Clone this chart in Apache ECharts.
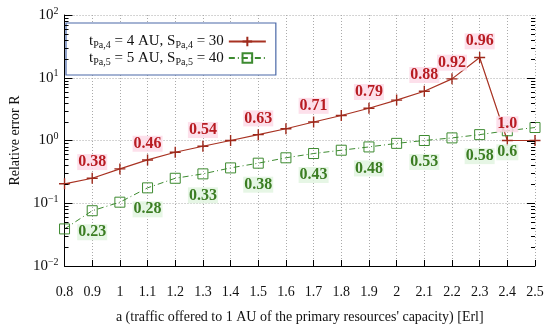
<!DOCTYPE html>
<html>
<head>
<meta charset="utf-8">
<script src="https://cdn.jsdelivr.net/npm/echarts@6/dist/echarts.min.js"></script>
<style>
html,body{margin:0;padding:0;background:#fff;}
#chart{width:550px;height:329px;}
</style>
</head>
<body>
<div id="chart"></div>
<script>
// ---- data ----
var xValues = [0.8, 0.9, 1.0, 1.1, 1.2, 1.3, 1.4, 1.5, 1.6, 1.7, 1.8, 1.9, 2.0, 2.1, 2.2, 2.3, 2.4, 2.5];
var redValues = [0.204, 0.25, 0.353, 0.49, 0.65, 0.81, 1.0, 1.24, 1.54, 1.97, 2.5, 3.27, 4.4, 6.1, 9.6, 21, 1.0, 1.0];
var greenValues = [0.039, 0.076, 0.104, 0.176, 0.25, 0.294, 0.366, 0.435, 0.53, 0.62, 0.70, 0.79, 0.90, 1.0, 1.1, 1.24, 1.43, 1.61];
var redLabels = ['', '0.38', '', '0.46', '', '0.54', '', '0.63', '', '0.71', '', '0.79', '', '0.88', '0.92', '0.96', '1.0', ''];
var greenLabels = ['', '0.23', '', '0.28', '', '0.33', '', '0.38', '', '0.43', '', '0.48', '', '0.53', '', '0.58', '0.6', ''];
var yDecades = [0.01, 0.1, 1, 10, 100];
var yExponents = ['\u22122', '\u22121', '0', '1', '2'];
var redName = 'A';
var greenName = 'B';

// minor tick values (2..9 times each decade)
var minorVals = [];
for (var d = 0; d < yDecades.length - 1; d++) {
  for (var m = 2; m <= 9; m++) minorVals.push(yDecades[d] * m);
}

var serif = '"Liberation Serif", "DejaVu Serif", serif';
var chart = echarts.init(document.getElementById('chart'), null, {renderer: 'canvas'});

function expFor(v) {
  for (var i = 0; i < yDecades.length; i++) {
    if (Math.abs(v / yDecades[i] - 1) < 1e-6) return yExponents[i];
  }
  return null;
}

var option = {
  animation: false,
  backgroundColor: '#fff',
  grid: {left: 59, right: 15, top: 15, bottom: 58},
  legend: {
    data: [redName, greenName],
    orient: 'vertical',
    left: 66, top: 23,
    align: 'right',
    itemWidth: 37, itemHeight: 12, itemGap: 0,
    padding: [11, 9, 8, 23],
    backgroundColor: '#fff',
    borderColor: '#4a68a8', borderWidth: 1.2,
    formatter: function (name) {
      if (name === redName) return '{n|t}{s|Pa,4}{n| = 4 AU, S}{s|Pa,4}{n| = 30}';
      return '{n|t}{s|Pa,5}{n| = 5 AU, S}{s|Pa,5}{n| = 40}';
    },
    textStyle: {
      fontFamily: serif, color: '#111',
      rich: {
        n: {fontFamily: serif, fontSize: 15, lineHeight: 18, color: '#111'},
        s: {fontFamily: serif, fontSize: 10, lineHeight: 10, verticalAlign: 'bottom', color: '#111'}
      }
    }
  },
  xAxis: {
    type: 'value', min: 0.8, max: 2.5, interval: 0.1,
    axisLine: {show: true, lineStyle: {color: '#000', width: 1}},
    axisTick: {show: true, inside: true, length: 6, lineStyle: {color: '#000'}},
    axisLabel: {
      margin: 19, fontFamily: serif, fontSize: 14, color: '#111',
      formatter: function (v) { return String(Math.round(v * 10) / 10); }
    },
    splitLine: {show: true, lineStyle: {color: '#aaa', type: [1, 2], width: 1}},
    name: 'a (traffic offered to 1 AU of the primary resources\' capacity) [Erl]',
    nameLocation: 'middle', nameGap: 44,
    nameTextStyle: {fontFamily: serif, fontSize: 14, color: '#111'}
  },
  yAxis: {
    type: 'log', logBase: 10, min: 0.01, max: 100,
    axisLine: {show: true, lineStyle: {color: '#000', width: 1}},
    axisTick: {show: true, inside: true, length: 8, lineStyle: {color: '#000'}},
    axisLabel: {
      margin: 6, fontFamily: serif, fontSize: 15, color: '#111',
      formatter: function (v) {
        var e = expFor(v);
        return e === null ? '' : '{b|10}{p|' + e + '}';
      },
      rich: {
        b: {fontFamily: serif, fontSize: 15, lineHeight: 18, color: '#111'},
        p: {fontFamily: serif, fontSize: 10, lineHeight: 10, verticalAlign: 'top', color: '#111'}
      }
    },
    splitLine: {show: true, lineStyle: {color: '#aaa', type: [1, 2], width: 1}},
    name: 'Relative error R',
    nameLocation: 'middle', nameGap: 42,
    nameTextStyle: {fontFamily: serif, fontSize: 14, color: '#111'}
  },
  series: [
    {
      name: redName, type: 'line',
      data: xValues.map(function (x, i) { return [x, redValues[i]]; }),
      symbol: 'path://M0,5L10,5M5,0L5,10', symbolSize: 11,
      itemStyle: {color: 'rgba(0,0,0,0)', borderColor: '#9e2a1c', borderWidth: 1.4},
      lineStyle: {color: '#a83222', width: 1.2},
      label: {
        show: true, position: 'top', distance: 2,
        formatter: function (p) { return redLabels[p.dataIndex]; },
        fontFamily: serif, fontWeight: 'bold', fontSize: 16, color: '#b81c22',
        backgroundColor: 'rgba(253,218,232,0.85)', padding: [0, 1, 0, 1]
      },
      z: 3
    },
    {
      name: greenName, type: 'line',
      data: xValues.map(function (x, i) { return [x, greenValues[i]]; }),
      symbol: 'rect', symbolSize: 10,
      itemStyle: {color: 'rgba(0,0,0,0)', borderColor: '#3d8a30', borderWidth: 1},
      lineStyle: {color: '#3d8a30', width: 1, type: [6, 3, 1, 3]},
      label: {
        show: true, position: 'bottom', distance: 8,
        formatter: function (p) { return greenLabels[p.dataIndex]; },
        fontFamily: serif, fontWeight: 'bold', fontSize: 16, color: '#3b7d22',
        backgroundColor: 'rgba(226,244,224,0.85)', padding: [0, 1, 0, 1]
      },
      z: 3
    },
    {
      name: 'minorTicks', type: 'custom', silent: true,
      data: minorVals.map(function (v) { return [0.8, v, 4]; })
        .concat(yDecades.map(function (v) { return [0.8, v, 8]; }).slice(1, 4)),
      renderItem: function (params, api) {
        var v = api.value(1), len = api.value(2);
        var pl = api.coord([0.8, v]);
        var pr = api.coord([2.5, v]);
        var y = Math.round(pl[1]) + 0.5;
        var children = [
          {type: 'line', shape: {x1: pr[0] - len, y1: y, x2: pr[0], y2: y}, style: {stroke: '#000', lineWidth: 1}}
        ];
        if (len < 8) children.push({type: 'line', shape: {x1: pl[0], y1: y, x2: pl[0] + len, y2: y}, style: {stroke: '#000', lineWidth: 1}});
        return {type: 'group', children: children};
      },
      z: 4
    }
  ]
};
chart.setOption(option);
</script>
</body>
</html>
